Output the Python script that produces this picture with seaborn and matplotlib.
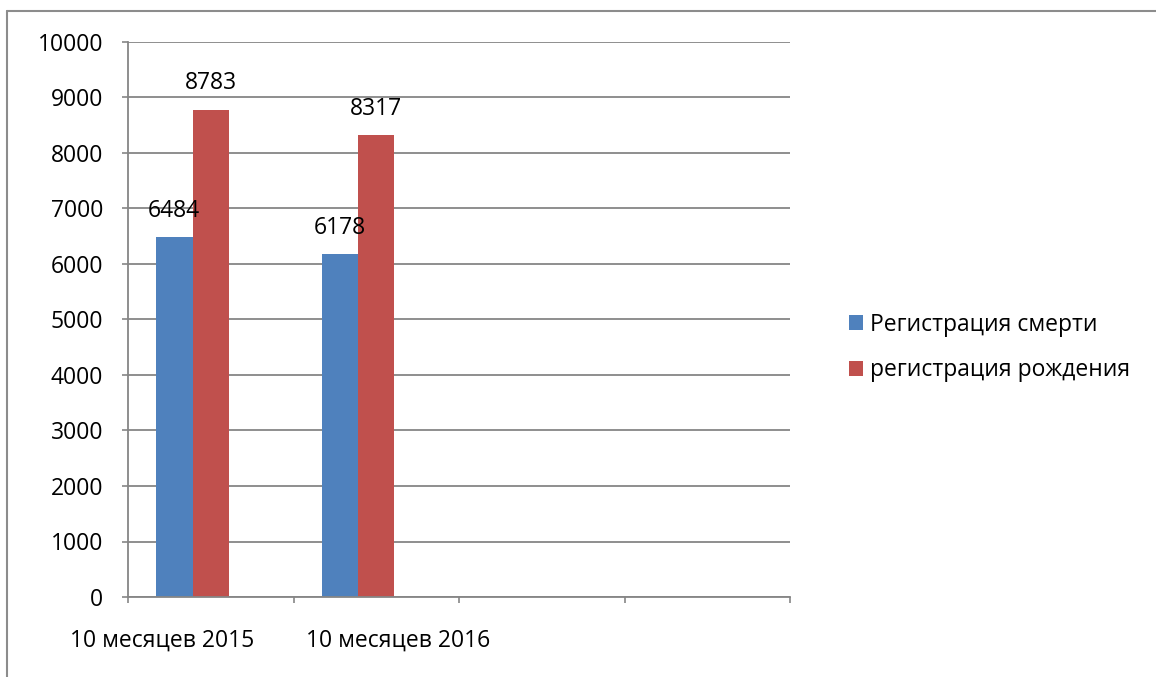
import matplotlib
matplotlib.use("Agg")
import matplotlib.pyplot as plt
from matplotlib.lines import Line2D
import numpy as np
import pandas as pd
import seaborn as sns

# ---- data ----
categories = ["10 месяцев 2015", "10 месяцев 2016", " ", "  "]
label_categories = ["10 месяцев 2015", "10 месяцев 2016"]
series_names = ["Регистрация смерти", "регистрация рождения", "ряд 3"]
deaths = [6484, 6178]
births = [8783, 8317]
y_ticks = [0, 1000, 2000, 3000, 4000, 5000, 6000, 7000, 8000, 9000, 10000]
colors = {"Регистрация смерти": "#4F81BD",
          "регистрация рождения": "#C0504D",
          "ряд 3": "#9BBB59"}

df = pd.DataFrame({
    "cat": label_categories * 2,
    "series": [series_names[0]] * 2 + [series_names[1]] * 2,
    "value": deaths + births,
})

sns.set_style("white")
plt.rcParams["font.family"] = ["Open Sans", "DejaVu Sans"]
plt.rcParams["text.color"] = "black"
plt.rcParams["xtick.labelcolor"] = "black"
plt.rcParams["ytick.labelcolor"] = "black"
FS = 16.5
GRID = "#868686"

fig = plt.figure(figsize=(11.56, 6.77), dpi=100)
ax = fig.add_axes([128 / 1156, 1 - 597 / 677, 662 / 1156, 555 / 677])

sns.barplot(data=df, x="cat", y="value", hue="series",
            order=categories, hue_order=series_names, palette=colors,
            width=0.6615, gap=0, saturation=1, linewidth=0,
            legend=False, ax=ax, errorbar=None)

ax.set_xlim(-0.5, 3.5)
ax.set_ylim(0, 10000)
ax.set_yticks(y_ticks)
ax.set_yticklabels([str(v) for v in y_ticks], fontsize=FS, color="black")
ax.set_xlabel("")
ax.set_ylabel("")

# x ticks at category boundaries, labels as minor ticks
ax.set_xticks([-0.5, 0.5, 1.5, 2.5, 3.5])
ax.set_xticklabels([""] * 5)
ax.set_xticks([-0.2915, 1.134], minor=True)
ax.set_xticklabels(label_categories, minor=True, fontsize=FS, color="black")
ax.tick_params(axis="x", which="major", direction="out", length=4.5,
               width=1.2, color=GRID, bottom=True)
ax.tick_params(axis="x", which="minor", length=0, pad=23, bottom=True)
ax.tick_params(axis="y", direction="out", length=4.5, width=1.2,
               color=GRID, left=True, pad=13.5)

ax.yaxis.grid(True, color=GRID, linewidth=1.3)
ax.xaxis.grid(False)
ax.set_axisbelow(True)
for s in ["top", "right"]:
    ax.spines[s].set_visible(False)
for s in ["left", "bottom"]:
    ax.spines[s].set_color(GRID)
    ax.spines[s].set_linewidth(1.3)

conts = ax.containers[:2]
for c in conts:
    ax.bar_label(c, padding=10.5, fontsize=FS, color="black")

leg = ax.legend(conts, series_names[:2], loc="center left",
                bbox_to_anchor=(849 / 1156, 1 - 347.5 / 677),
                bbox_transform=fig.transFigure, frameon=False, fontsize=FS,
                handlelength=0.62, handleheight=0.62, handletextpad=0.3,
                labelspacing=0.95, borderpad=0, borderaxespad=0)
for t in leg.get_texts():
    t.set_color("black")

# outer chart border (top and left visible)
fig.add_artist(Line2D([7 / 1156, 1], [1 - 11 / 677, 1 - 11 / 677],
                      transform=fig.transFigure, color="#8c8c8c", lw=1.5))
fig.add_artist(Line2D([7 / 1156, 7 / 1156], [0, 1 - 11 / 677],
                      transform=fig.transFigure, color="#8c8c8c", lw=1.5))

fig.savefig("out.png", dpi=100)
